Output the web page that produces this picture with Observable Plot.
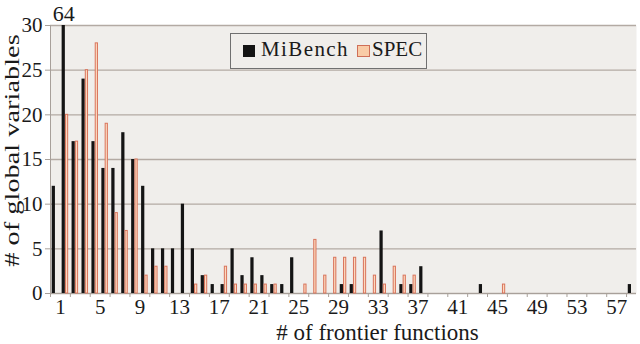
<!DOCTYPE html>
<html><head><meta charset="utf-8">
<script src="https://cdn.jsdelivr.net/npm/d3@7"></script>
<script src="https://cdn.jsdelivr.net/npm/@observablehq/plot@0.6"></script>
<style>
html,body{margin:0;padding:0;background:#fff;}
#wrap{position:relative;width:640px;height:344px;overflow:hidden;}
#wrap svg{position:absolute;left:0;top:0;}
.lg{position:absolute;font-family:"Liberation Serif","Times New Roman",serif;font-size:21px;line-height:21px;color:#1a1a1a;white-space:nowrap;}
#lgbox{position:absolute;left:230px;top:33px;width:197px;height:36px;border:1px solid #707070;background:#f0eeeb;box-sizing:border-box;}
#sw1{position:absolute;left:243px;top:45px;width:12px;height:12px;background:#141414;}
#sw2{position:absolute;left:357px;top:45px;width:13px;height:12px;background:#f9cba6;border:1px solid #cf6f58;box-sizing:border-box;}
</style>
</head><body>
<div id="wrap"></div>
<script>
const cats = d3.range(0, 59);
const mibench = [12,64,17,24,17,14,14,18,15,12, 5,5,5,10,5,2,1,1,5,2, 4,2,1,1,4,0,0,0,0,1, 1,0,0,7,0,1,1,3,0,0, 0,0,0,1,0,0,0,0,0,0, 0,0,0,0,0,0,0,0,1];
const spec    = [0,20,17,25,28,19,9,7,15,2, 3,3,0,0,1,2,0,3,1,1, 1,1,1,0,0,1,6,2,4,4, 4,4,2,1,3,2,2,0,0,0, 0,0,0,0,0,1,0,0,0,0, 0,0,0,0,0,0,0,0,0];
const xTickLabels = [1,5,9,13,17,21,25,29,33,37,41,45,49,53,57];
const xTickMarks = d3.range(0, 59, 2);
const yTicks = [0,5,10,15,20,25,30];
const seriesNames = ["MiBench","SPEC"];

const rows = cats.map((c,i)=>({cat:c, mibench:mibench[i], spec:spec[i]}));
const bw = 586/59, half = bw/2;

const chart = Plot.plot({
  width: 640, height: 344,
  marginLeft: 50, marginRight: 4, marginTop: 25, marginBottom: 51,
  style: {fontFamily: '"Liberation Serif","Times New Roman",serif', fontSize: "21px", background: "transparent", color: "#1a1a1a"},
  x: {type: "band", domain: cats, padding: 0, axis: null},
  y: {domain: [0,30], clamp: true, axis: null},
  marks: [
    Plot.frame({fill: "#f0eeeb", stroke: null}),
    Plot.gridY(yTicks, {stroke: "#b3aaa3", strokeOpacity: 1, strokeWidth: 1.3}),
    Plot.ruleX([0], {dx: -half, stroke: "#a8a09a"}),
    Plot.ruleY([0], {stroke: "#a8a09a"}),
    Plot.barY(rows.filter(d=>d.mibench>0), {x:"cat", y:"mibench", fill:"#141414", insetLeft:1.7, insetRight:5}),
    Plot.barY(rows.filter(d=>d.spec>0), {x:"cat", y:"spec", fill:"#fcd9bd", stroke:"#d9745c", strokeWidth:1, insetLeft:5.5, insetRight:2.2}),
    Plot.text(rows.filter(d=>d.mibench>30), {x:"cat", y:30, text:d=>String(d.mibench), dx:-1.7, dy:-5, lineAnchor:"bottom", fontSize:22}),
    Plot.axisY({ticks: yTicks, tickSize: 5, tickPadding: 3, stroke: "#a8a09a", fill: "#1a1a1a", label: null}),
    Plot.axisX({ticks: xTickMarks, tickSize: 4, tickFormat: () => "", dx: -half, stroke: "#a8a09a", label: null}),
    Plot.axisX({ticks: xTickLabels, tickSize: 0, tickPadding: 6, dx: -half, fill: "#1a1a1a", label: null}),
    Plot.text(["# of frontier functions"], {frameAnchor:"bottom", dx:34, dy:46, lineAnchor:"bottom", fontSize:23, fill:"#1a1a1a"}),
    Plot.text(["# of global variables"], {frameAnchor:"left", textAnchor:"middle", rotate:-90, dx:-32, dy:-9, lineAnchor:"bottom", fontSize:22, fill:"#1a1a1a"})
  ]
});
d3.select(chart).selectAll("text").filter(function(){return this.textContent === "# of global variables";})
  .each(function(){
    const t = this.getAttribute("transform") || "";
    this.setAttribute("transform", t + " scale(1.29,1)");
  });

const wrap = document.getElementById("wrap");
wrap.appendChild(chart);
wrap.insertAdjacentHTML("beforeend",
  `<div id="lgbox"></div><div id="sw1"></div><div class="lg" style="left:261px;top:39px;letter-spacing:1.4px">${seriesNames[0]}</div>` +
  `<div id="sw2"></div><div class="lg" style="left:372px;top:39px">${seriesNames[1]}</div>`);
</script>
</body></html>
